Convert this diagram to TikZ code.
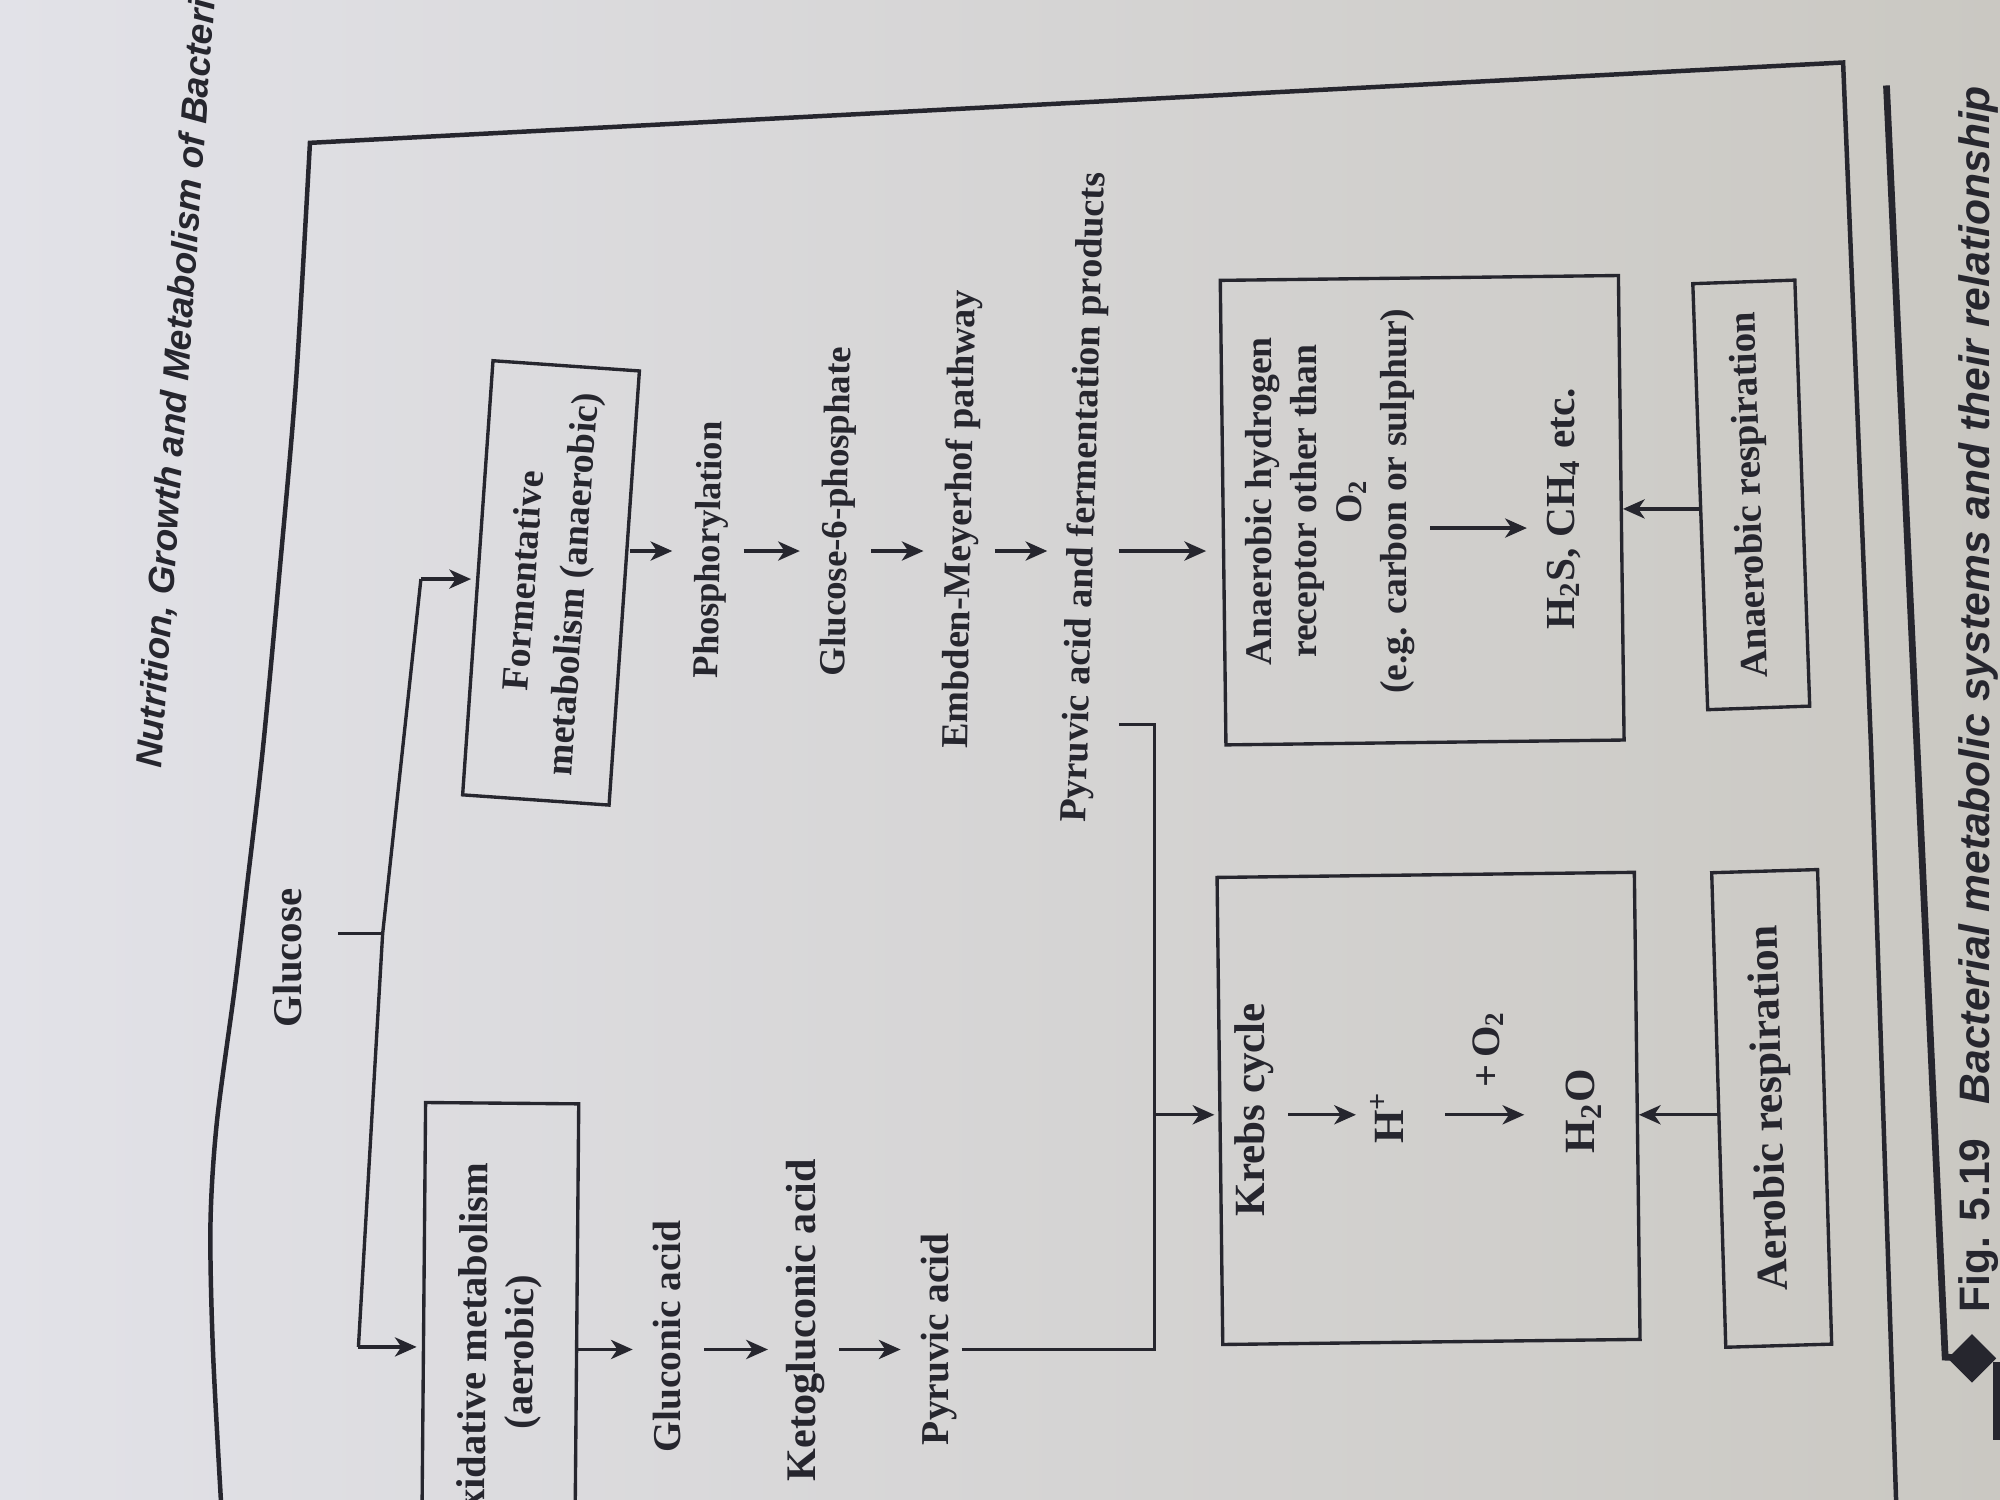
\documentclass[tikz,border=0pt]{standalone}
\usepackage{fontspec}
\setmainfont{Liberation Serif}
\setsansfont{Liberation Sans}
\usepackage{tikz}
\usetikzlibrary{arrows.meta}
\definecolor{papierl}{RGB}{226,226,232}
\definecolor{papierr}{RGB}{202,200,194}
\definecolor{tinte}{RGB}{38,38,46}

\begin{document}
\begin{tikzpicture}[x=0.01cm, y=-0.01cm]

	\tikzset{>={Stealth[length=1.7mm, width=1.5mm, inset=0.5mm]}}
	\tikzset{
		txt/.style={text=tinte, inner sep=1pt, text height=6pt, text depth=1.8pt,
			font=\bfseries\fontsize{#1}{#1}\selectfont},
		txt/.default=8.6,
		kasten/.style={draw=tinte, line width=0.75pt, text=tinte, align=center, inner sep=2pt},
		linie/.style={draw=tinte, line width=0.75pt},
		pfeil/.style={->, draw=tinte, line width=0.75pt, shorten <=0.8mm, shorten >=1.2mm}
	}

	% Papier
	\shade[left color=papierl, right color=papierr] (0,0) rectangle (1568,1176);
	\useasboundingbox (0,0) rectangle (1568,1176);
	\clip (0,0) rectangle (1568,1176);

	% Rahmen
	\draw[draw=tinte, line width=1pt] plot[smooth] coordinates {(174,1190) (167,1060) (165,960) (170,880) (184,775) (193,700) (206,588) (219,450) (232,300) (243,112)}
		-- (1445,49) -- (1467,588) -- (1487,1190);

	% Kopfzeile
	\node[font=\sffamily\bfseries\itshape\fontsize{8.2}{10}\selectfont, text=tinte, rotate=86, anchor=west, inner sep=0pt] (kopf) at (118,603) {Nutrition, Growth and Metabolism of Bacteria};

	% Glucose und Verzweigung
	\node[txt=9.1, rotate=90] (gluc) at (229,751) {Glucose};
	\coordinate (gabz) at (300,732);
	\coordinate (fo) at (330,454);
	\coordinate (ox) at (281,1056);
	\draw[linie] (fo) -- (gabz) -- (ox);
	\draw[linie, shorten <=1.8mm] (gluc.south |- gabz) -- (gabz);

	% Kaesten
	\node[kasten, rotate=86, minimum width=3.41cm, minimum height=1.15cm, font=\bfseries\fontsize{8.5}{11}\selectfont] (ferm) at (432,457) {Formentative\\metabolism (anaerobic)};
	\node[kasten, rotate=89.5, minimum width=3.9cm, minimum height=1.2cm, font=\bfseries\fontsize{9}{10.5}\selectfont] (oxi) at (392,1060) {Oxidative metabolism\\(aerobic)};
	\draw[pfeil, shorten <=0pt, shorten >=0.4mm] (fo) -- (fo -| ferm.north);
	\draw[pfeil, shorten <=0pt, shorten >=0.4mm] (ox) -- (ox -| oxi.north);

	% aerober Weg
	\coordinate (achsL) at (0,1058);
	\node[txt=8.8, rotate=90] (glu) at (526,1048) {Gluconic acid};
	\node[txt=9.4, rotate=90] (keto) at (632,1035) {Ketogluconic acid};
	\node[txt=8.8, rotate=90] (pyr) at (736,1050) {Pyruvic acid};
	\draw[pfeil, shorten <=0pt] (oxi.south |- achsL) -- (glu.north |- achsL);
	\draw[pfeil] (glu.south |- achsL) -- (keto.north |- achsL);
	\draw[pfeil] (keto.south |- achsL) -- (pyr.north |- achsL);

	% anaerober Weg
	\coordinate (achsR) at (0,432);
	\node[txt=8.1, rotate=89] (phos) at (557,431) {Phosphorylation};
	\node[txt=8.2, rotate=89] (gsp) at (657,401) {Glucose-6-phosphate};
	\node[txt=8.5, rotate=89] (emp) at (754,407) {Embden-Meyerhof pathway};
	\node[txt=8.5, rotate=88.3] (pfp) at (851,390) {Pyruvic acid and fermentation products};
	\draw[pfeil, shorten <=0.3mm] (ferm.south |- achsR) -- (phos.north |- achsR);
	\draw[pfeil] (phos.south |- achsR) -- (gsp.north |- achsR);
	\draw[pfeil] (gsp.south |- achsR) -- (emp.north |- achsR);
	\draw[pfeil] (emp.south |- achsR) -- (pfp.north |- achsR);

	% Krebs-Zyklus
	\node[kasten, rotate=90.7, minimum width=3.66cm, minimum height=3.27cm] (krebs) at (1120,869) {};
	\coordinate (achsK) at (0,874);
	\node[txt=9.6, rotate=90] (kc) at (984,870) {Krebs cycle};
	\node[txt=9.6, rotate=90] (hp) at (1093,876) {H\textsuperscript{+}};
	\node[txt=9.6, rotate=90] (wasser) at (1243,871) {H\textsubscript{2}O};
	\draw[pfeil] (kc.south |- achsK) -- (hp.north |- achsK);
	\draw[pfeil, shorten <=2.2mm, shorten >=3mm] (hp.south |- achsK) -- (wasser.north |- achsK)
		node[midway, txt=9, rotate=90, anchor=west, inner xsep=2mm] (sauer) {+\,O\textsubscript{2}};

	\coordinate (gabel) at (905,568);
	\draw[linie, shorten >=0.8mm] (pyr.south |- achsL) -| (gabel) -- (gabel -| pfp.south);
	\draw[pfeil, shorten <=0pt, shorten >=0.3mm] (gabel |- achsK) -- (krebs.north |- achsK);

	% Wasserstoffakzeptor
	\node[kasten, rotate=90.7, minimum width=3.64cm, minimum height=3.12cm] (hyd) at (1115,400) {};
	\coordinate (achsH) at (0,414);
	\node[text=tinte, align=center, rotate=90, inner sep=1pt, font=\bfseries\fontsize{8.4}{10}\selectfont] (hydtxt) at (1043,393) {Anaerobic hydrogen\\receptor other than\\O\textsubscript{2}\\(e.g. carbon or sulphur)};
	\node[txt=9.2, rotate=90] (hzs) at (1227,399) {H\textsubscript{2}S, CH\textsubscript{4} etc.};
	\draw[pfeil] (pfp.south |- achsR) -- (hyd.north |- achsR);
	\draw[pfeil] (hydtxt.south |- achsH) -- (hzs.north |- achsH);

	% Atmung
	\node[kasten, rotate=91.7, minimum width=3.72cm, minimum height=0.83cm, font=\bfseries\fontsize{9.8}{11}\selectfont] (aer) at (1389,869) {Aerobic respiration};
	\node[kasten, rotate=92, minimum width=3.34cm, minimum height=0.8cm, font=\bfseries\fontsize{8.7}{10}\selectfont] (anae) at (1373,388) {Anaerobic respiration};
	\draw[pfeil, shorten <=0pt, shorten >=0pt] (aer.north |- achsK) -- (krebs.south |- achsK);
	\draw[pfeil, shorten <=0pt, shorten >=0pt] (anae.north |- hzs) -- (hyd.south |- hzs);

	% Bildunterschrift
	\draw[draw=tinte, line width=1.5pt] (1479,67) -- (1525,1064) -- (1546,1065);
	\fill[tinte] (1546,1046) -- (1565,1065) -- (1546,1084) -- (1527,1065) -- cycle;
	\draw[draw=tinte, line width=1.5pt] (1565,1068) -- (1565,1129);
	\node[font=\sffamily\bfseries\fontsize{9.5}{11}\selectfont, text=tinte, rotate=90, anchor=west, inner sep=0pt] (titel) at (1551,1030) {Fig. 5.19\hspace{0.8em}\textit{Bacterial metabolic systems and their relationship}};
\end{tikzpicture}
\end{document}
